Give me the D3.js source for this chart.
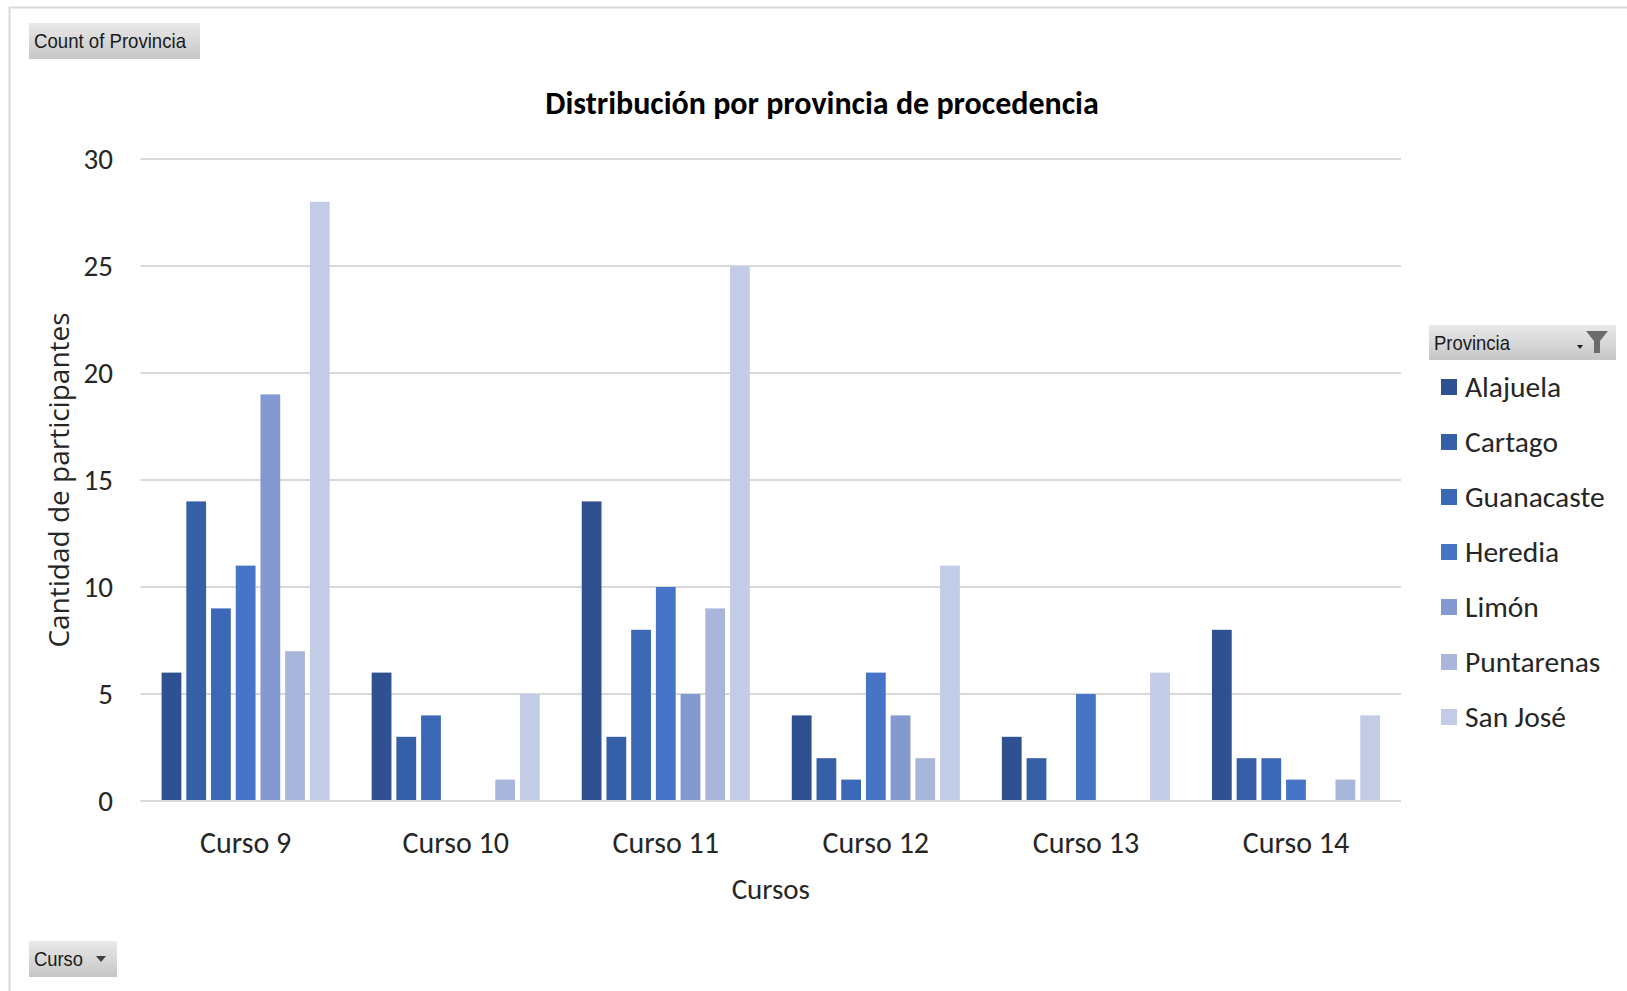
<!DOCTYPE html>
<html><head><meta charset="utf-8">
<script src="https://cdn.jsdelivr.net/npm/d3@7"></script>
<style>
html,body{margin:0;padding:0;background:#fff;}
svg{display:block;}
</style></head>
<body>
<svg id="chart" width="1627" height="991"></svg>
<script>
// ---- data ----
const categories = ["Curso 9", "Curso 10", "Curso 11", "Curso 12", "Curso 13", "Curso 14"];
const provinces = ["Alajuela", "Cartago", "Guanacaste", "Heredia", "Limón", "Puntarenas", "San José"];
const alajuela   = [6, 6, 14, 4, 3, 8];
const cartago    = [14, 3, 3, 2, 2, 2];
const guanacaste = [9, 4, 8, 1, 0, 2];
const heredia    = [11, 0, 10, 6, 5, 1];
const limon      = [19, 0, 5, 4, 0, 0];
const puntarenas = [7, 1, 9, 2, 0, 1];
const sanJose    = [28, 5, 25, 11, 6, 4];
const yTicks = [0, 5, 10, 15, 20, 25, 30];
const colors = ["#2f5191", "#355fa7", "#3c69b7", "#4674c6", "#8399cf", "#a9b6db", "#c2cce6"];

const seriesValues = [alajuela, cartago, guanacaste, heredia, limon, puntarenas, sanJose];

const font = "Calibri, Carlito, Lato, 'Open Sans', sans-serif";
const svg = d3.select("#chart");

// frame
svg.append("path").attr("d", "M9.5,991 V7.5 H1627").attr("fill", "none").attr("stroke", "#d9d9d9").attr("stroke-width", 2);

const defs = svg.append("defs");
const grad = defs.append("linearGradient").attr("id", "btn").attr("x1", 0).attr("y1", 0).attr("x2", 0).attr("y2", 1);
grad.append("stop").attr("offset", "0%").attr("stop-color", "#e9e9e9");
grad.append("stop").attr("offset", "100%").attr("stop-color", "#c6c6c6");

const plot = {left: 140.6, right: 1401, top: 159, bottom: 801};

const x0 = d3.scaleBand().domain(categories).range([plot.left, plot.right]).paddingInner(0.2).paddingOuter(0.1);
const x1 = d3.scaleBand().domain(provinces).range([0, x0.bandwidth()]).paddingInner(0.2).paddingOuter(0);
const y = d3.scaleLinear().domain([0, 30]).range([plot.bottom, plot.top]);

// gridlines
svg.append("g").selectAll("line").data(yTicks).join("line")
  .attr("x1", plot.left).attr("x2", plot.right)
  .attr("y1", d => y(d)).attr("y2", d => y(d))
  .attr("stroke", "#d9d9d9").attr("stroke-width", 2);

// y labels
svg.append("g").selectAll("text").data(yTicks).join("text")
  .attr("x", 113).attr("y", d => y(d)).attr("dy", "0.35em")
  .attr("text-anchor", "end").attr("font-family", font).attr("font-size", 29).attr("fill", "#262626")
  .text(d => d);

// bars
const groups = svg.append("g").selectAll("g").data(categories).join("g")
  .attr("transform", d => `translate(${x0(d)},0)`);
groups.selectAll("rect").data((c, ci) => provinces.map((p, pi) => ({p, pi, v: seriesValues[pi][ci]})))
  .join("rect")
  .attr("x", d => x1(d.p)).attr("width", x1.bandwidth())
  .attr("y", d => y(d.v)).attr("height", d => y(0) - y(d.v))
  .attr("fill", d => colors[d.pi]);

// baseline
svg.append("line").attr("x1", plot.left).attr("x2", plot.right).attr("y1", y(0)).attr("y2", y(0))
  .attr("stroke", "#d9d9d9").attr("stroke-width", 2);

// x labels
svg.append("g").selectAll("text").data(categories).join("text")
  .attr("x", d => x0(d) + x0.bandwidth() / 2).attr("y", 842).attr("dy", "0.35em")
  .attr("text-anchor", "middle").attr("font-family", font).attr("font-size", 30).attr("fill", "#262626")
  .text(d => d);

// axis titles
svg.append("text").attr("x", (plot.left + plot.right) / 2).attr("y", 889).attr("dy", "0.35em")
  .attr("text-anchor", "middle").attr("font-family", font).attr("font-size", 29).attr("fill", "#262626")
  .text("Cursos");
svg.append("text").attr("transform", `translate(59,${(plot.top + plot.bottom) / 2}) rotate(-90)`).attr("dy", "0.35em")
  .attr("text-anchor", "middle").attr("font-family", "'Open Sans', sans-serif").attr("font-size", 28).attr("fill", "#262626")
  .text("Cantidad de participantes");

// title
svg.append("text").attr("x", 822).attr("y", 103).attr("dy", "0.35em")
  .attr("text-anchor", "middle").attr("font-family", font).attr("font-size", 32).attr("font-weight", "bold").attr("fill", "#000")
  .text("Distribución por provincia de procedencia");

// field buttons
const narrow = "'Liberation Sans Narrow', 'Arial Narrow', sans-serif";
function button(x, yy, w, h, label, tw) {
  svg.append("rect").attr("x", x).attr("y", yy).attr("width", w).attr("height", h).attr("fill", "url(#btn)");
  svg.append("text").attr("x", x + 5).attr("y", yy + h / 2).attr("dy", "0.35em")
    .attr("font-family", narrow).attr("font-size", 21).attr("fill", "#1a1a1a")
    .attr("textLength", tw).attr("lengthAdjust", "spacingAndGlyphs").text(label);
}
button(29, 23, 171, 36, "Count of Provincia", 152);
button(29, 941, 88, 36, "Curso", 49);
svg.append("path").attr("d", "M96,956 h10 l-5,6 z").attr("fill", "#404040");
button(1429, 325, 187, 35, "Provincia", 76);
// filter icon
svg.append("path").attr("d", "M1586,331 h22 l-8,10 v12 h-6 v-12 z").attr("fill", "#6b6b6b");
svg.append("path").attr("d", "M1577,345 h6 l-3,4 z").attr("fill", "#202020");

// legend
const legendY = [387, 442, 497, 552, 607, 662, 717];
const legend = svg.append("g").selectAll("g").data(provinces).join("g")
  .attr("transform", (d, i) => `translate(1441,${legendY[i]})`);
legend.append("rect").attr("x", 0).attr("y", -8).attr("width", 16).attr("height", 16).attr("fill", (d, i) => colors[i]);
legend.append("text").attr("x", 24).attr("y", 0).attr("dy", "0.35em")
  .attr("font-family", font).attr("font-size", 29.5).attr("fill", "#262626").text(d => d);
</script>
</body></html>
